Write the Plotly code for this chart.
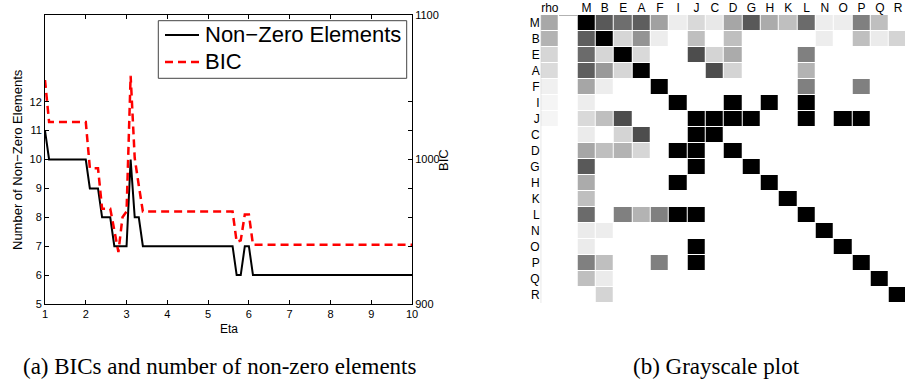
import plotly.graph_objects as go

# ---- Panel (a) data ----
eta_nz = [1.0, 1.1, 2.0, 2.1, 2.3, 2.4, 2.6, 2.7, 3.0, 3.1, 3.2, 3.3, 3.4, 5.6, 5.7, 5.8, 5.9, 6.0, 6.1, 10.0]
nonzero = [11, 10, 10, 9, 9, 8, 8, 7, 7, 10, 8, 8, 7, 7, 6, 6, 7, 7, 6, 6]

eta_bic = [1.0, 1.1, 2.0, 2.1, 2.3, 2.4, 2.6, 2.7, 2.8, 2.9, 3.0, 3.1, 3.2, 3.3, 3.4, 5.6, 5.7, 5.8, 5.9, 6.0, 6.1, 10.0]
bic = [1055, 1026, 1026, 994, 994, 966, 966, 950, 936, 960, 964, 1058, 1001, 982, 964, 964, 943, 944, 962, 962, 941, 941]

x_ticks = [1, 2, 3, 4, 5, 6, 7, 8, 9, 10]
y_left_ticks = [5, 6, 7, 8, 9, 10, 11, 12]
y_right_ticks = [900, 920, 940, 960, 980, 1000, 1020, 1040, 1100]
y_right_labels = ["900", "", "", "", "", "1000", "", "", "1100"]
series_names = ["Non\u2212Zero Elements", "BIC"]

# ---- Panel (b) data ----
row_labels = ["M", "B", "E", "A", "F", "I", "J", "C", "D", "G", "H", "K", "L", "N", "O", "P", "Q", "R"]
col_labels = ["rho", ""] + row_labels
rho = [0.34, 0.30, 0.16, 0.14, 0.06, 0.04, 0.04, 0, 0, 0, 0, 0, 0, 0, 0, 0, 0, 0]
partial = [
    # M    B    E    A    F    I    J    C    D    G    H    K    L    N    O    P    Q    R
    [1.0, .65, .57, .63, .37, .07, .15, .09, .35, .65, .33, .25, .58, .07, .07, .50, .25, 0],   # M
    [.63, 1.0, .16, .42, .07, 0, .25, 0, .25, 0, 0, 0, 0, .07, 0, .25, .08, .17],              # B
    [.58, .16, 1.0, .15, 0, 0, .70, .17, .33, 0, 0, 0, .50, 0, 0, 0, 0, 0],                     # E
    [.63, .40, .16, 1.0, 0, 0, 0, .70, .17, 0, 0, 0, .30, 0, 0, 0, 0, 0],                       # A
    [.35, .07, 0, 0, 1.0, 0, 0, 0, 0, 0, 0, 0, .50, 0, 0, .50, 0, 0],                           # F
    [.07, 0, 0, 0, 0, 1.0, 0, 0, 1.0, 0, 1.0, 0, 1.0, 0, 0, 0, 0, 0],                           # I
    [.15, .25, .70, 0, 0, 0, 1.0, 1.0, 1.0, 1.0, 0, 0, 1.0, 0, 1.0, 1.0, 0, 0],                 # J
    [.08, 0, .17, .70, 0, 0, 1.0, 1.0, 0, 0, 0, 0, 0, 0, 0, 0, 0, 0],                           # C
    [.35, .25, .30, .16, 0, 1.0, 1.0, 0, 1.0, 0, 0, 0, 0, 0, 0, 0, 0, 0],                       # D
    [.65, 0, 0, 0, 0, 0, 1.0, 0, 0, 1.0, 0, 0, 0, 0, 0, 0, 0, 0],                               # G
    [.33, 0, 0, 0, 0, 1.0, 0, 0, 0, 0, 1.0, 0, 0, 0, 0, 0, 0, 0],                               # H
    [.25, 0, 0, 0, 0, 0, 0, 0, 0, 0, 0, 1.0, 0, 0, 0, 0, 0, 0],                                 # K
    [.58, 0, .50, .30, .50, 1.0, 1.0, 0, 0, 0, 0, 0, 1.0, 0, 0, 0, 0, 0],                       # L
    [.08, .07, 0, 0, 0, 0, 0, 0, 0, 0, 0, 0, 0, 1.0, 0, 0, 0, 0],                               # N
    [.08, 0, 0, 0, 0, 0, 1.0, 0, 0, 0, 0, 0, 0, 0, 1.0, 0, 0, 0],                               # O
    [.50, .25, 0, 0, .50, 0, 1.0, 0, 0, 0, 0, 0, 0, 0, 0, 1.0, 0, 0],                           # P
    [.25, .08, 0, 0, 0, 0, 0, 0, 0, 0, 0, 0, 0, 0, 0, 0, 1.0, 0],                               # Q
    [0, .17, 0, 0, 0, 0, 0, 0, 0, 0, 0, 0, 0, 0, 0, 0, 0, 1.0],                                 # R
]

z = [[rho[i], 0] + partial[i] for i in range(len(row_labels))]

W, H = 905, 380
SANS = "Liberation Sans, Arial, Helvetica, sans-serif"
SERIF = "Liberation Serif, Times New Roman, serif"


def px_x(p):
    return p / W


def px_y(p):
    return (H - p) / H


fig = go.Figure()
fig.add_trace(go.Scatter(x=eta_nz, y=nonzero, mode="lines", name=series_names[0],
                         line=dict(color="black", width=2), xaxis="x", yaxis="y", showlegend=False))
fig.add_trace(go.Scatter(x=eta_bic, y=bic, mode="lines", name=series_names[1],
                         line=dict(color="#ff0000", width=2.5, dash="8px,5px"), xaxis="x", yaxis="y2",
                         showlegend=False))
fig.add_trace(go.Heatmap(z=z, x=list(range(len(col_labels))), y=list(range(len(row_labels))),
                         colorscale=[[0, "white"], [1, "black"]], zmin=0, zmax=1,
                         showscale=False, xgap=1, ygap=1, xaxis="x2", yaxis="y3",
                         hoverinfo="skip", showlegend=False))

axis_common = dict(showgrid=False, zeroline=False, showline=True, linecolor="black", linewidth=1,
                   ticks="inside", ticklen=4, tickcolor="black", automargin=False,
                   tickfont=dict(family=SANS, size=11, color="black"))


def ann(text, x, y, size, family=SANS, angle=0, xanchor="center"):
    return dict(text=text, x=px_x(x), y=px_y(y), xref="paper", yref="paper",
                xanchor=xanchor, yanchor="middle", showarrow=False, textangle=angle,
                font=dict(family=family, size=size, color="black"))


# legend drawn as a boxed key in the upper right of panel (a)
legend_shapes = [
    dict(type="rect", xref="paper", yref="paper", x0=px_x(158.3), x1=px_x(406.7),
         y0=px_y(78.3), y1=px_y(20.7), line=dict(color="#444", width=1), fillcolor="white", layer="above"),
    dict(type="line", xref="paper", yref="paper", x0=px_x(165), x1=px_x(199), y0=px_y(35), y1=px_y(35),
         line=dict(color="black", width=2), layer="above"),
    dict(type="line", xref="paper", yref="paper", x0=px_x(165), x1=px_x(199), y0=px_y(62), y1=px_y(62),
         line=dict(color="#ff0000", width=2.5, dash="8px,5px"), layer="above"),
]

fig.update_layout(
    width=W, height=H,
    margin=dict(l=0, r=0, t=0, b=0, autoexpand=False),
    paper_bgcolor="white", plot_bgcolor="white",
    showlegend=False,
    xaxis=dict(domain=[px_x(45), px_x(412)], range=[1, 10], tickvals=x_ticks,
               mirror="ticks", anchor="y", **axis_common),
    yaxis=dict(domain=[px_y(304), px_y(15)], range=[5, 15], tickvals=y_left_ticks,
               anchor="x", **axis_common),
    yaxis2=dict(overlaying="y", side="right", anchor="x", range=[900, 1100],
                tickvals=y_right_ticks, ticktext=y_right_labels, **axis_common),
    xaxis2=dict(domain=[px_x(540.7), 1.0], range=[-0.5, 19.375], side="top", anchor="y3",
                tickvals=list(range(len(col_labels))), ticktext=col_labels,
                showgrid=False, zeroline=False, showline=False, ticks="", automargin=False,
                tickfont=dict(family=SANS, size=12, color="black")),
    yaxis3=dict(domain=[px_y(303), px_y(15)], range=[17.5, -0.5], anchor="x2",
                tickvals=list(range(len(row_labels))), ticktext=row_labels,
                showgrid=False, zeroline=False, showline=False, ticks="", automargin=False,
                tickfont=dict(family=SANS, size=12, color="black")),
    shapes=legend_shapes + [
        dict(type="line", xref="x2", yref="y3", x0=-0.5, x1=-0.5, y0=-0.5, y1=17.5,
             line=dict(color="#c8c8c8", width=1)),
        dict(type="line", xref="x2", yref="y3", x0=0.5, x1=1.5, y0=-0.5, y1=-0.5,
             line=dict(color="#666", width=1)),
        dict(type="line", xref="x2", yref="y3", x0=0.97, x1=0.97, y0=-0.5, y1=-0.75,
             line=dict(color="#666", width=1)),
    ],
    annotations=[
        ann(series_names[0], 203, 35, 22, xanchor="left"),
        ann(series_names[1], 203, 62, 22, xanchor="left"),
        ann("Eta", 228.5, 329, 12),
        ann("Number of Non\u2212Zero Elements", 17, 160, 13, angle=-90),
        ann("BIC", 443, 160, 13, angle=-90),
        ann("(a) BICs and number of non-zero elements", 219.7, 366, 23, family=SERIF),
        ann("(b) Grayscale plot", 716, 366, 23, family=SERIF),
    ],
)

fig.write_html(
    "out.html",
    config={"displayModeBar": False},
    post_script="document.body.style.margin='0';document.body.style.padding='0';"
                "document.body.style.overflow='hidden';",
)
